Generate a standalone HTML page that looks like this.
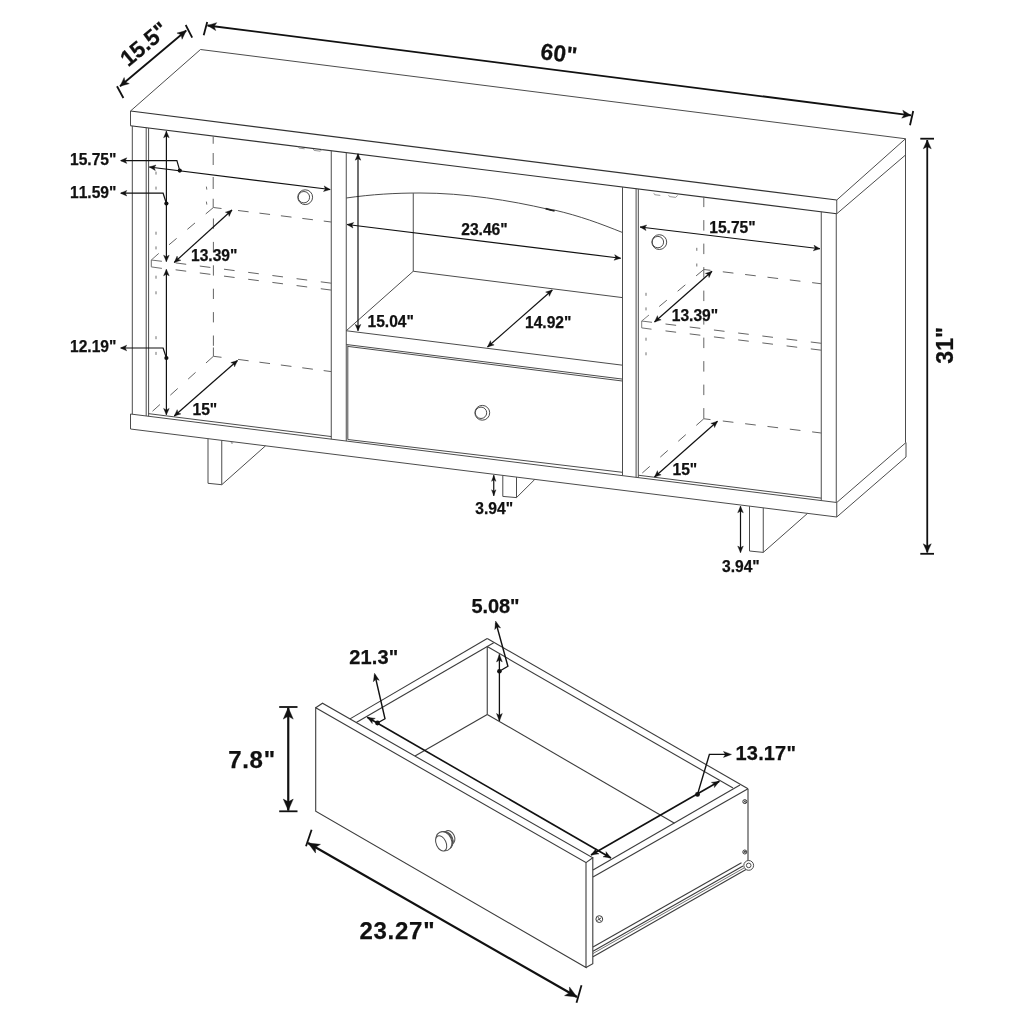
<!DOCTYPE html>
<html><head><meta charset="utf-8"><title>Dimensions</title>
<style>
html,body{margin:0;padding:0;background:#fff;}
body{width:1024px;height:1024px;overflow:hidden;}
svg{display:block}
text{font-family:"Liberation Sans",sans-serif;font-weight:700;fill:#111;stroke:#111;stroke-width:0.25px;font-kerning:none;letter-spacing:0;}
svg{will-change:transform;transform:translateZ(0);}
</style></head><body>
<svg width="1024" height="1024" viewBox="0 0 1024 1024">
<rect width="1024" height="1024" fill="#fff"/>
<path d="M130.50,111.00 L200.50,49.50 L905.50,138.75 L836.75,200.00" stroke="#4c4c4c" stroke-width="1.0" fill="none" stroke-linejoin="miter" />
<path d="M130.50,111.00 L130.50,125.75" stroke="#4c4c4c" stroke-width="1.0" fill="none" stroke-linejoin="miter" />
<path d="M836.75,213.75 L836.75,200.00" stroke="#4c4c4c" stroke-width="1.0" fill="none" stroke-linejoin="miter" />
<line x1="130.50" y1="111.00" x2="836.75" y2="200.00" stroke="#333" stroke-width="1.15" />
<line x1="130.50" y1="125.75" x2="836.75" y2="213.75" stroke="#333" stroke-width="1.15" />
<path d="M836.75,213.75 L905.50,155.00 L905.50,138.75" stroke="#4c4c4c" stroke-width="1.0" fill="none" stroke-linejoin="miter" />
<line x1="905.50" y1="155.00" x2="905.50" y2="442.50" stroke="#4c4c4c" stroke-width="1.0" />
<path d="M130.50,414.00 L130.50,429.00 L836.75,517.00 L836.75,502.50" stroke="#4c4c4c" stroke-width="1.0" fill="none" stroke-linejoin="miter" />
<line x1="130.50" y1="414.00" x2="836.75" y2="502.50" stroke="#4c4c4c" stroke-width="1.0" />
<path d="M836.75,502.50 L906.00,442.50 L906.00,457.00 L836.75,517.00" stroke="#4c4c4c" stroke-width="1.0" fill="none" stroke-linejoin="miter" />
<line x1="132.30" y1="125.97" x2="132.30" y2="414.23" stroke="#4c4c4c" stroke-width="1.0" />
<line x1="146.20" y1="127.71" x2="146.20" y2="415.97" stroke="#4c4c4c" stroke-width="1.0" />
<line x1="148.60" y1="128.01" x2="148.60" y2="416.27" stroke="#4c4c4c" stroke-width="1.0" />
<line x1="331.25" y1="150.76" x2="331.25" y2="439.15" stroke="#4c4c4c" stroke-width="1.0" />
<line x1="346.25" y1="152.63" x2="346.25" y2="441.03" stroke="#4c4c4c" stroke-width="1.0" />
<line x1="622.50" y1="187.05" x2="622.50" y2="475.65" stroke="#4c4c4c" stroke-width="1.0" />
<line x1="636.10" y1="188.75" x2="636.10" y2="477.35" stroke="#4c4c4c" stroke-width="1.0" />
<line x1="638.30" y1="189.02" x2="638.30" y2="477.63" stroke="#4c4c4c" stroke-width="1.0" />
<line x1="821.25" y1="211.82" x2="821.25" y2="500.55" stroke="#4c4c4c" stroke-width="1.0" />
<line x1="836.25" y1="213.69" x2="836.25" y2="502.43" stroke="#4c4c4c" stroke-width="1.0" />
<line x1="148.00" y1="413.59" x2="331.25" y2="436.55" stroke="#4c4c4c" stroke-width="1.0" />
<line x1="638.30" y1="475.23" x2="821.25" y2="498.15" stroke="#4c4c4c" stroke-width="1.0" />
<path d="M298.2,146.6 l0.9,1.5 l5.6,0.7" stroke="#8a8a8a" stroke-width="0.9" fill="none" />
<path d="M313.2,149.0 l0.9,1.4 l6.2,0.8 l1.9,-2.0" stroke="#8a8a8a" stroke-width="0.9" fill="none" />
<path d="M653.8,193.2 l0.9,1.5 l5.6,0.7" stroke="#8a8a8a" stroke-width="0.9" fill="none" />
<path d="M668.6,195.2 l0.9,1.4 l6.2,0.8 l1.9,-2.0" stroke="#8a8a8a" stroke-width="0.9" fill="none" />
<path d="M346.25,198 C372,194.3 396,193 420,193 C465,193 510,200.5 548,209.2 l3,1.2 l3.5,-0.3 C580,216 600,223.5 622.5,232.5" stroke="#4c4c4c" stroke-width="1.0" fill="none" />
<line x1="545.60" y1="208.60" x2="554.60" y2="210.90" stroke="#222" stroke-width="1.9" />
<line x1="413.25" y1="193.20" x2="413.25" y2="271.25" stroke="#4c4c4c" stroke-width="1.0" />
<line x1="413.25" y1="271.25" x2="346.25" y2="330.75" stroke="#4c4c4c" stroke-width="1.0" />
<line x1="413.25" y1="271.25" x2="622.50" y2="297.60" stroke="#4c4c4c" stroke-width="1.0" />
<line x1="346.25" y1="330.75" x2="622.50" y2="365.20" stroke="#4c4c4c" stroke-width="1.0" />
<line x1="346.25" y1="344.50" x2="622.50" y2="379.10" stroke="#4c4c4c" stroke-width="1.0" />
<path d="M347.80,345.40 L347.80,439.50" stroke="#4c4c4c" stroke-width="1.0" fill="none" stroke-linejoin="miter" />
<line x1="347.80" y1="346.40" x2="622.30" y2="381.00" stroke="#4c4c4c" stroke-width="1.0" />
<line x1="347.80" y1="439.50" x2="622.30" y2="472.30" stroke="#4c4c4c" stroke-width="1.0" />
<circle cx="482.30" cy="412.80" r="7.4" stroke="#4c4c4c" stroke-width="1.0" fill="none"/>
<circle cx="481.00" cy="412.80" r="5.7" stroke="#4c4c4c" stroke-width="1.0" fill="none"/>
<circle cx="305.20" cy="197.20" r="7.4" stroke="#4c4c4c" stroke-width="1.0" fill="none"/>
<circle cx="303.90" cy="197.20" r="5.7" stroke="#4c4c4c" stroke-width="1.0" fill="none"/>
<circle cx="659.30" cy="242.10" r="7.4" stroke="#4c4c4c" stroke-width="1.0" fill="none"/>
<circle cx="657.90" cy="242.10" r="5.7" stroke="#4c4c4c" stroke-width="1.0" fill="none"/>
<line x1="213.20" y1="136.30" x2="213.20" y2="143.75" stroke="#646464" stroke-width="1.0" />
<line x1="213.20" y1="153.00" x2="213.20" y2="196.00" stroke="#646464" stroke-width="1.0" stroke-dasharray="12 12" stroke-dashoffset="0"/>
<line x1="213.20" y1="198.75" x2="213.20" y2="207.50" stroke="#646464" stroke-width="1.0" />
<line x1="213.40" y1="345.80" x2="213.40" y2="212.00" stroke="#646464" stroke-width="1.0" stroke-dasharray="10.3 13.1" stroke-dashoffset="0"/>
<line x1="213.40" y1="347.50" x2="213.40" y2="356.30" stroke="#646464" stroke-width="1.0" />
<line x1="213.40" y1="207.50" x2="221.50" y2="208.50" stroke="#646464" stroke-width="1.0" />
<line x1="238.00" y1="210.50" x2="331.25" y2="222.00" stroke="#646464" stroke-width="1.0" stroke-dasharray="10.7 10.9" stroke-dashoffset="0"/>
<line x1="213.40" y1="356.30" x2="221.50" y2="357.30" stroke="#646464" stroke-width="1.0" />
<line x1="238.00" y1="359.40" x2="331.25" y2="371.60" stroke="#646464" stroke-width="1.0" stroke-dasharray="10.7 10.9" stroke-dashoffset="0"/>
<line x1="213.40" y1="356.30" x2="150.00" y2="413.50" stroke="#646464" stroke-width="1.0" stroke-dasharray="10 14" stroke-dashoffset="0"/>
<line x1="213.40" y1="207.50" x2="158.75" y2="253.40" stroke="#646464" stroke-width="1.0" stroke-dasharray="10 14" stroke-dashoffset="0"/>
<path d="M158.75,253.40 L151.30,260.00 L151.30,266.90" stroke="#707070" stroke-width="1" fill="none" stroke-linejoin="miter" />
<line x1="151.30" y1="260.00" x2="161.90" y2="261.30" stroke="#707070" stroke-width="1.0" />
<line x1="151.30" y1="266.90" x2="161.90" y2="268.40" stroke="#707070" stroke-width="1.0" />
<line x1="175.60" y1="262.90" x2="331.25" y2="283.20" stroke="#646464" stroke-width="1.0" stroke-dasharray="10.7 13.7" stroke-dashoffset="0"/>
<line x1="175.60" y1="269.80" x2="331.25" y2="290.10" stroke="#646464" stroke-width="1.0" stroke-dasharray="10.7 13.7" stroke-dashoffset="0"/>
<line x1="156.00" y1="171.60" x2="156.00" y2="174.60" stroke="#707070" stroke-width="1" />
<line x1="156.00" y1="186.60" x2="156.00" y2="189.60" stroke="#707070" stroke-width="1" />
<line x1="156.00" y1="231.70" x2="156.00" y2="234.70" stroke="#707070" stroke-width="1" />
<line x1="156.00" y1="246.40" x2="156.00" y2="249.40" stroke="#707070" stroke-width="1" />
<line x1="156.00" y1="275.70" x2="156.00" y2="278.70" stroke="#707070" stroke-width="1" />
<line x1="156.00" y1="291.30" x2="156.00" y2="294.30" stroke="#707070" stroke-width="1" />
<line x1="156.00" y1="336.20" x2="156.00" y2="339.20" stroke="#707070" stroke-width="1" />
<line x1="156.00" y1="351.90" x2="156.00" y2="354.90" stroke="#707070" stroke-width="1" />
<line x1="206.40" y1="186.60" x2="206.80" y2="189.60" stroke="#707070" stroke-width="1" />
<line x1="206.40" y1="201.60" x2="206.80" y2="204.60" stroke="#707070" stroke-width="1" />
<line x1="703.80" y1="196.60" x2="703.80" y2="418.75" stroke="#646464" stroke-width="1.0" stroke-dasharray="10.5 13" stroke-dashoffset="0"/>
<line x1="703.80" y1="269.50" x2="710.50" y2="270.30" stroke="#646464" stroke-width="1.0" />
<line x1="722.80" y1="271.80" x2="821.25" y2="283.75" stroke="#646464" stroke-width="1.0" stroke-dasharray="10.7 11.8" stroke-dashoffset="0"/>
<line x1="703.80" y1="418.75" x2="710.50" y2="419.60" stroke="#646464" stroke-width="1.0" />
<line x1="722.80" y1="421.00" x2="821.25" y2="433.00" stroke="#646464" stroke-width="1.0" stroke-dasharray="10.7 11.8" stroke-dashoffset="0"/>
<line x1="703.80" y1="418.75" x2="640.00" y2="475.00" stroke="#646464" stroke-width="1.0" stroke-dasharray="10 14" stroke-dashoffset="0"/>
<line x1="703.80" y1="269.50" x2="649.00" y2="315.00" stroke="#646464" stroke-width="1.0" stroke-dasharray="10 14" stroke-dashoffset="0"/>
<path d="M649.00,315.00 L641.70,321.00 L641.70,327.90" stroke="#707070" stroke-width="0.9" fill="none" stroke-linejoin="miter" />
<line x1="641.70" y1="321.00" x2="652.00" y2="322.30" stroke="#707070" stroke-width="1.0" />
<line x1="641.70" y1="327.90" x2="651.50" y2="329.20" stroke="#707070" stroke-width="1.0" />
<line x1="665.50" y1="324.00" x2="821.25" y2="343.30" stroke="#646464" stroke-width="1.0" stroke-dasharray="10.7 13.7" stroke-dashoffset="0"/>
<line x1="665.50" y1="330.90" x2="821.25" y2="350.20" stroke="#646464" stroke-width="1.0" stroke-dasharray="10.7 13.7" stroke-dashoffset="0"/>
<line x1="646.00" y1="292.80" x2="646.00" y2="295.80" stroke="#707070" stroke-width="1" />
<line x1="646.00" y1="307.40" x2="646.00" y2="310.40" stroke="#707070" stroke-width="1" />
<line x1="646.00" y1="337.70" x2="646.00" y2="340.70" stroke="#707070" stroke-width="1" />
<line x1="646.00" y1="352.30" x2="646.00" y2="355.30" stroke="#707070" stroke-width="1" />
<line x1="696.80" y1="247.80" x2="696.80" y2="250.80" stroke="#707070" stroke-width="1" />
<line x1="696.80" y1="263.50" x2="696.80" y2="266.50" stroke="#707070" stroke-width="1" />
<path d="M208.00,438.66 L208.00,483.30 L221.75,484.70 L221.75,440.38" stroke="#4c4c4c" stroke-width="1.0" fill="none" stroke-linejoin="miter" />
<line x1="221.75" y1="484.70" x2="265.50" y2="445.83" stroke="#4c4c4c" stroke-width="1.0" />
<path d="M502.80,475.43 L502.80,496.40 L516.50,497.60 L516.50,477.13" stroke="#4c4c4c" stroke-width="1.0" fill="none" stroke-linejoin="miter" />
<line x1="516.50" y1="497.60" x2="534.80" y2="479.42" stroke="#4c4c4c" stroke-width="1.0" />
<path d="M749.50,506.19 L749.50,551.00 L763.25,552.40 L763.25,507.90" stroke="#4c4c4c" stroke-width="1.0" fill="none" stroke-linejoin="miter" />
<line x1="763.25" y1="552.40" x2="807.50" y2="513.42" stroke="#4c4c4c" stroke-width="1.0" />
<path d="M231,442 l1,1.6 l1,-1.4" stroke="#666" stroke-width="0.7" fill="none" />
<line x1="120.00" y1="86.25" x2="186.25" y2="30.50" stroke="#111" stroke-width="1.8" />
<path d="M120.00,86.25 L124.16,77.52 L125.12,81.94 L129.31,83.64 Z" fill="#111" stroke="#111" stroke-width="0.4" stroke-linejoin="miter"/>
<path d="M186.25,30.50 L182.09,39.23 L181.13,34.81 L176.94,33.11 Z" fill="#111" stroke="#111" stroke-width="0.4" stroke-linejoin="miter"/>
<line x1="117.00" y1="86.25" x2="123.40" y2="98.00" stroke="#111" stroke-width="1.8" />
<line x1="185.70" y1="25.00" x2="192.20" y2="37.60" stroke="#111" stroke-width="1.8" />
<line x1="207.50" y1="25.50" x2="911.00" y2="115.30" stroke="#111" stroke-width="1.8" />
<path d="M207.50,25.50 L216.74,22.65 L214.13,26.35 L215.72,30.58 Z" fill="#111" stroke="#111" stroke-width="0.4" stroke-linejoin="miter"/>
<path d="M911.00,115.30 L901.76,118.15 L904.37,114.45 L902.78,110.22 Z" fill="#111" stroke="#111" stroke-width="0.4" stroke-linejoin="miter"/>
<line x1="207.20" y1="22.00" x2="203.70" y2="35.30" stroke="#111" stroke-width="1.8" />
<line x1="913.20" y1="111.00" x2="910.00" y2="125.30" stroke="#111" stroke-width="1.8" />
<line x1="927.25" y1="140.00" x2="927.25" y2="552.60" stroke="#111" stroke-width="1.8" />
<path d="M927.25,140.00 L931.25,148.80 L927.25,146.69 L923.25,148.80 Z" fill="#111" stroke="#111" stroke-width="0.4" stroke-linejoin="miter"/>
<path d="M927.25,552.60 L923.25,543.80 L927.25,545.91 L931.25,543.80 Z" fill="#111" stroke="#111" stroke-width="0.4" stroke-linejoin="miter"/>
<line x1="920.30" y1="138.70" x2="934.00" y2="138.70" stroke="#111" stroke-width="1.8" />
<line x1="920.30" y1="553.80" x2="934.00" y2="553.80" stroke="#111" stroke-width="1.8" />
<line x1="166.40" y1="131.30" x2="166.40" y2="261.60" stroke="#111" stroke-width="1.2" />
<path d="M166.40,131.30 L169.20,137.70 L166.40,136.16 L163.60,137.70 Z" fill="#111" stroke="#111" stroke-width="0.4" stroke-linejoin="miter"/>
<path d="M166.40,261.60 L163.60,255.20 L166.40,256.74 L169.20,255.20 Z" fill="#111" stroke="#111" stroke-width="0.4" stroke-linejoin="miter"/>
<line x1="166.40" y1="269.40" x2="166.40" y2="414.80" stroke="#111" stroke-width="1.2" />
<path d="M166.40,269.40 L169.20,275.80 L166.40,274.26 L163.60,275.80 Z" fill="#111" stroke="#111" stroke-width="0.4" stroke-linejoin="miter"/>
<path d="M166.40,414.80 L163.60,408.40 L166.40,409.94 L169.20,408.40 Z" fill="#111" stroke="#111" stroke-width="0.4" stroke-linejoin="miter"/>
<line x1="149.30" y1="167.00" x2="330.20" y2="189.50" stroke="#111" stroke-width="1.2" />
<path d="M149.30,167.00 L156.00,165.01 L154.13,167.60 L155.31,170.57 Z" fill="#111" stroke="#111" stroke-width="0.4" stroke-linejoin="miter"/>
<path d="M330.20,189.50 L323.50,191.49 L325.37,188.90 L324.19,185.93 Z" fill="#111" stroke="#111" stroke-width="0.4" stroke-linejoin="miter"/>
<path d="M121.00,160.60 L176.90,160.60 L179.75,170.60" stroke="#111" stroke-width="1.2" fill="none" stroke-linejoin="miter" />
<path d="M120.40,160.60 L126.80,157.80 L125.26,160.60 L126.80,163.40 Z" fill="#111" stroke="#111" stroke-width="0.4" stroke-linejoin="miter"/>
<circle cx="179.75" cy="170.60" r="2.1" fill="#111"/>
<path d="M121.00,193.20 L163.10,193.20 L166.40,203.50" stroke="#111" stroke-width="1.2" fill="none" stroke-linejoin="miter" />
<path d="M120.40,193.20 L126.80,190.40 L125.26,193.20 L126.80,196.00 Z" fill="#111" stroke="#111" stroke-width="0.4" stroke-linejoin="miter"/>
<circle cx="166.40" cy="203.50" r="2.1" fill="#111"/>
<path d="M121.00,348.00 L163.10,348.00 L166.40,358.00" stroke="#111" stroke-width="1.2" fill="none" stroke-linejoin="miter" />
<path d="M120.30,348.00 L126.70,345.20 L125.16,348.00 L126.70,350.80 Z" fill="#111" stroke="#111" stroke-width="0.4" stroke-linejoin="miter"/>
<circle cx="166.40" cy="358.00" r="2.1" fill="#111"/>
<line x1="174.25" y1="262.50" x2="232.00" y2="210.00" stroke="#111" stroke-width="1.2" />
<path d="M174.25,262.50 L177.10,256.12 L177.85,259.23 L180.87,260.27 Z" fill="#111" stroke="#111" stroke-width="0.4" stroke-linejoin="miter"/>
<path d="M232.00,210.00 L229.15,216.38 L228.40,213.27 L225.38,212.23 Z" fill="#111" stroke="#111" stroke-width="0.4" stroke-linejoin="miter"/>
<line x1="174.25" y1="416.00" x2="237.50" y2="360.50" stroke="#111" stroke-width="1.2" />
<path d="M174.25,416.00 L177.21,409.67 L177.91,412.79 L180.91,413.88 Z" fill="#111" stroke="#111" stroke-width="0.4" stroke-linejoin="miter"/>
<path d="M237.50,360.50 L234.54,366.83 L233.84,363.71 L230.84,362.62 Z" fill="#111" stroke="#111" stroke-width="0.4" stroke-linejoin="miter"/>
<line x1="358.00" y1="153.80" x2="358.00" y2="330.80" stroke="#111" stroke-width="1.2" />
<path d="M358.00,153.80 L360.80,160.20 L358.00,158.66 L355.20,160.20 Z" fill="#111" stroke="#111" stroke-width="0.4" stroke-linejoin="miter"/>
<path d="M358.00,330.80 L355.20,324.40 L358.00,325.94 L360.80,324.40 Z" fill="#111" stroke="#111" stroke-width="0.4" stroke-linejoin="miter"/>
<line x1="347.00" y1="224.50" x2="620.70" y2="258.25" stroke="#111" stroke-width="1.2" />
<path d="M347.00,224.50 L353.69,222.50 L351.83,225.10 L353.01,228.06 Z" fill="#111" stroke="#111" stroke-width="0.4" stroke-linejoin="miter"/>
<path d="M620.70,258.25 L614.01,260.25 L615.87,257.65 L614.69,254.69 Z" fill="#111" stroke="#111" stroke-width="0.4" stroke-linejoin="miter"/>
<line x1="487.50" y1="347.00" x2="552.30" y2="290.00" stroke="#111" stroke-width="1.2" />
<path d="M487.50,347.00 L490.46,340.67 L491.15,343.79 L494.15,344.88 Z" fill="#111" stroke="#111" stroke-width="0.4" stroke-linejoin="miter"/>
<path d="M552.30,290.00 L549.34,296.33 L548.65,293.21 L545.65,292.12 Z" fill="#111" stroke="#111" stroke-width="0.4" stroke-linejoin="miter"/>
<line x1="640.00" y1="227.00" x2="820.00" y2="248.75" stroke="#111" stroke-width="1.2" />
<path d="M640.00,227.00 L646.69,224.99 L644.83,227.58 L646.02,230.55 Z" fill="#111" stroke="#111" stroke-width="0.4" stroke-linejoin="miter"/>
<path d="M820.00,248.75 L813.31,250.76 L815.17,248.17 L813.98,245.20 Z" fill="#111" stroke="#111" stroke-width="0.4" stroke-linejoin="miter"/>
<line x1="654.50" y1="322.00" x2="712.00" y2="271.25" stroke="#111" stroke-width="1.2" />
<path d="M654.50,322.00 L657.45,315.67 L658.15,318.78 L661.15,319.86 Z" fill="#111" stroke="#111" stroke-width="0.4" stroke-linejoin="miter"/>
<path d="M712.00,271.25 L709.05,277.58 L708.35,274.47 L705.35,273.39 Z" fill="#111" stroke="#111" stroke-width="0.4" stroke-linejoin="miter"/>
<line x1="654.50" y1="477.00" x2="717.50" y2="421.25" stroke="#111" stroke-width="1.2" />
<path d="M654.50,477.00 L657.44,470.66 L658.14,473.78 L661.15,474.86 Z" fill="#111" stroke="#111" stroke-width="0.4" stroke-linejoin="miter"/>
<path d="M717.50,421.25 L714.56,427.59 L713.86,424.47 L710.85,423.39 Z" fill="#111" stroke="#111" stroke-width="0.4" stroke-linejoin="miter"/>
<line x1="493.75" y1="475.30" x2="493.75" y2="495.80" stroke="#111" stroke-width="1.2" />
<path d="M493.75,475.30 L495.95,481.30 L493.75,479.86 L491.55,481.30 Z" fill="#111" stroke="#111" stroke-width="0.4" stroke-linejoin="miter"/>
<path d="M493.75,495.80 L491.55,489.80 L493.75,491.24 L495.95,489.80 Z" fill="#111" stroke="#111" stroke-width="0.4" stroke-linejoin="miter"/>
<line x1="740.50" y1="506.30" x2="740.50" y2="552.50" stroke="#111" stroke-width="1.2" />
<path d="M740.50,506.30 L743.30,512.70 L740.50,511.16 L737.70,512.70 Z" fill="#111" stroke="#111" stroke-width="0.4" stroke-linejoin="miter"/>
<path d="M740.50,552.50 L737.70,546.10 L740.50,547.64 L743.30,546.10 Z" fill="#111" stroke="#111" stroke-width="0.4" stroke-linejoin="miter"/>
<text x="70.00" y="165.00" font-size="15.6" text-anchor="start" >15.75&quot;</text>
<text x="70.00" y="197.50" font-size="15.6" text-anchor="start" >11.59&quot;</text>
<text x="70.00" y="352.20" font-size="15.6" text-anchor="start" >12.19&quot;</text>
<text x="191.00" y="260.60" font-size="15.6" text-anchor="start" >13.39&quot;</text>
<text x="192.50" y="414.75" font-size="15.6" text-anchor="start" >15&quot;</text>
<text x="367.50" y="327.00" font-size="15.6" text-anchor="start" >15.04&quot;</text>
<text x="461.25" y="235.00" font-size="15.6" text-anchor="start" >23.46&quot;</text>
<text x="525.00" y="328.00" font-size="15.6" text-anchor="start" >14.92&quot;</text>
<text x="709.25" y="232.80" font-size="15.6" text-anchor="start" >15.75&quot;</text>
<text x="671.75" y="320.75" font-size="15.6" text-anchor="start" >13.39&quot;</text>
<text x="672.50" y="475.00" font-size="15.6" text-anchor="start" >15&quot;</text>
<text x="475.30" y="514.40" font-size="15.6" text-anchor="start" >3.94&quot;</text>
<text x="722.00" y="571.90" font-size="15.6" text-anchor="start" >3.94&quot;</text>
<text x="558.90" y="61.30" font-size="23" text-anchor="middle" transform="rotate(7 558.90 53.00)" >60&quot;</text>
<text x="953.00" y="345.40" font-size="23" text-anchor="middle" transform="rotate(-90 953.00 345.40)" >31&quot;</text>
<text x="149.00" y="50.00" font-size="22.5" text-anchor="middle" transform="rotate(-40 149.00 50.00)" >15.5&quot;</text>
<path d="M315.70,707.80 L315.70,811.25 L586.00,967.50 L586.00,862.60 Z" stroke="#3c3c3c" stroke-width="1.1" fill="none" stroke-linejoin="miter" />
<path d="M315.70,707.80 L322.50,703.20 L592.80,857.80 L586.00,862.60" stroke="#3c3c3c" stroke-width="1.1" fill="none" stroke-linejoin="miter" />
<path d="M592.80,857.80 L592.80,963.75 L586.00,967.50" stroke="#3c3c3c" stroke-width="1.1" fill="none" stroke-linejoin="miter" />
<line x1="350.00" y1="718.90" x2="487.25" y2="638.50" stroke="#3c3c3c" stroke-width="1.1" />
<line x1="356.25" y1="722.50" x2="493.75" y2="642.75" stroke="#3c3c3c" stroke-width="1.1" />
<line x1="487.25" y1="638.50" x2="748.00" y2="788.75" stroke="#3c3c3c" stroke-width="1.1" />
<line x1="487.25" y1="646.60" x2="733.00" y2="788.00" stroke="#3c3c3c" stroke-width="1.1" />
<line x1="593.00" y1="870.00" x2="740.00" y2="785.00" stroke="#3c3c3c" stroke-width="1.1" />
<line x1="593.00" y1="877.00" x2="748.00" y2="788.75" stroke="#3c3c3c" stroke-width="1.1" />
<line x1="748.00" y1="788.75" x2="748.00" y2="863.00" stroke="#3c3c3c" stroke-width="1.1" />
<line x1="487.25" y1="646.60" x2="487.25" y2="714.40" stroke="#3c3c3c" stroke-width="1.1" />
<line x1="487.25" y1="714.40" x2="415.00" y2="756.10" stroke="#3c3c3c" stroke-width="1.1" />
<line x1="487.25" y1="714.40" x2="674.50" y2="823.20" stroke="#3c3c3c" stroke-width="1.1" />
<line x1="593.00" y1="947.00" x2="741.50" y2="862.70" stroke="#3c3c3c" stroke-width="1.1" />
<line x1="593.00" y1="951.30" x2="743.00" y2="866.00" stroke="#3c3c3c" stroke-width="1.1" />
<line x1="593.00" y1="953.50" x2="744.00" y2="868.00" stroke="#3c3c3c" stroke-width="0.7" />
<line x1="593.00" y1="956.80" x2="746.00" y2="869.50" stroke="#3c3c3c" stroke-width="1.1" />
<circle cx="748.70" cy="865.40" r="4.9" stroke="#4c4c4c" stroke-width="1.0" fill="#fff"/>
<circle cx="748.70" cy="865.40" r="2.3" stroke="#4c4c4c" stroke-width="1.0" fill="none"/>
<circle cx="599.30" cy="919.10" r="3.4" stroke="#333" stroke-width="0.95" fill="none"/>
<line x1="597.26" y1="920.46" x2="601.34" y2="917.74" stroke="#333" stroke-width="0.85" />
<line x1="597.94" y1="917.06" x2="600.66" y2="921.14" stroke="#333" stroke-width="0.85" />
<circle cx="744.80" cy="801.60" r="2" stroke="#333" stroke-width="0.95" fill="none"/>
<line x1="743.60" y1="802.40" x2="746.00" y2="800.80" stroke="#333" stroke-width="0.85" />
<line x1="744.00" y1="800.40" x2="745.60" y2="802.80" stroke="#333" stroke-width="0.85" />
<circle cx="744.80" cy="852.00" r="2" stroke="#333" stroke-width="0.95" fill="none"/>
<line x1="743.60" y1="852.80" x2="746.00" y2="851.20" stroke="#333" stroke-width="0.85" />
<line x1="744.00" y1="850.80" x2="745.60" y2="853.20" stroke="#333" stroke-width="0.85" />
<g transform="rotate(-25 443.5 841.5)" stroke="#4c4c4c" stroke-width="1.0" fill="#fff">
<ellipse cx="450.5" cy="840.2" rx="5.2" ry="7.2"/>
<ellipse cx="446.2" cy="841.2" rx="7.0" ry="9.0"/>
<ellipse cx="445.1" cy="841.3" rx="7.3" ry="9.4"/>
<ellipse cx="444" cy="841.4" rx="7.6" ry="9.8"/>
<ellipse cx="440.6" cy="842.2" rx="4.9" ry="8.1"/>
</g>
<line x1="288.25" y1="707.60" x2="288.25" y2="810.60" stroke="#111" stroke-width="2.2" />
<path d="M288.25,707.60 L293.25,719.10 L288.25,716.34 L283.25,719.10 Z" fill="#111" stroke="#111" stroke-width="0.4" stroke-linejoin="miter"/>
<path d="M288.25,810.60 L283.25,799.10 L288.25,801.86 L293.25,799.10 Z" fill="#111" stroke="#111" stroke-width="0.4" stroke-linejoin="miter"/>
<line x1="279.20" y1="707.00" x2="297.50" y2="707.00" stroke="#111" stroke-width="1.8" />
<line x1="279.20" y1="811.30" x2="297.50" y2="811.30" stroke="#111" stroke-width="1.8" />
<line x1="308.00" y1="843.00" x2="577.00" y2="997.00" stroke="#111" stroke-width="2.2" />
<path d="M308.00,843.00 L320.46,844.37 L315.58,847.34 L315.50,853.05 Z" fill="#111" stroke="#111" stroke-width="0.4" stroke-linejoin="miter"/>
<path d="M577.00,997.00 L564.54,995.63 L569.42,992.66 L569.50,986.95 Z" fill="#111" stroke="#111" stroke-width="0.4" stroke-linejoin="miter"/>
<line x1="311.60" y1="829.80" x2="306.00" y2="846.20" stroke="#111" stroke-width="1.8" />
<line x1="581.50" y1="985.20" x2="576.50" y2="1002.80" stroke="#111" stroke-width="1.8" />
<line x1="367.25" y1="717.25" x2="611.00" y2="858.00" stroke="#111" stroke-width="1.6" />
<path d="M367.25,717.25 L375.25,718.40 L372.19,720.10 L372.24,723.60 Z" fill="#111" stroke="#111" stroke-width="0.4" stroke-linejoin="miter"/>
<path d="M611.00,858.00 L603.00,856.85 L606.06,855.15 L606.01,851.65 Z" fill="#111" stroke="#111" stroke-width="0.4" stroke-linejoin="miter"/>
<line x1="591.00" y1="855.00" x2="719.40" y2="781.25" stroke="#111" stroke-width="1.6" />
<path d="M591.00,855.00 L596.01,848.66 L595.94,852.16 L599.00,853.87 Z" fill="#111" stroke="#111" stroke-width="0.4" stroke-linejoin="miter"/>
<path d="M719.40,781.25 L714.39,787.59 L714.46,784.09 L711.40,782.38 Z" fill="#111" stroke="#111" stroke-width="0.4" stroke-linejoin="miter"/>
<line x1="499.40" y1="654.40" x2="499.40" y2="721.00" stroke="#111" stroke-width="1.3" />
<path d="M499.40,654.40 L502.30,661.90 L499.40,660.10 L496.50,661.90 Z" fill="#111" stroke="#111" stroke-width="0.4" stroke-linejoin="miter"/>
<path d="M499.40,721.00 L496.50,713.50 L499.40,715.30 L502.30,713.50 Z" fill="#111" stroke="#111" stroke-width="0.4" stroke-linejoin="miter"/>
<path d="M374.90,675.00 L385.00,718.75 L377.50,723.00" stroke="#111" stroke-width="1.4" fill="none" stroke-linejoin="miter" />
<path d="M374.50,673.25 L379.22,680.37 L375.87,679.17 L373.38,681.72 Z" fill="#111" stroke="#111" stroke-width="0.4" stroke-linejoin="miter"/>
<circle cx="377.50" cy="723.00" r="2.4" fill="#111"/>
<path d="M496.00,623.00 L507.90,666.25 L499.40,671.25" stroke="#111" stroke-width="1.4" fill="none" stroke-linejoin="miter" />
<path d="M495.60,621.00 L500.59,627.93 L497.19,626.87 L494.80,629.51 Z" fill="#111" stroke="#111" stroke-width="0.4" stroke-linejoin="miter"/>
<circle cx="499.40" cy="671.25" r="2.3" fill="#111"/>
<path d="M697.50,794.40 L709.40,754.40 L729.00,754.40" stroke="#111" stroke-width="1.4" fill="none" stroke-linejoin="miter" />
<path d="M731.50,754.40 L723.50,757.40 L725.42,754.40 L723.50,751.40 Z" fill="#111" stroke="#111" stroke-width="0.4" stroke-linejoin="miter"/>
<circle cx="697.50" cy="794.40" r="2.4" fill="#111"/>
<text x="471.60" y="612.80" font-size="20" text-anchor="start" style="letter-spacing:-0.1px">5.08&quot;</text>
<text x="349.30" y="663.75" font-size="20" text-anchor="start" style="letter-spacing:0.15px">21.3&quot;</text>
<text x="735.60" y="760.30" font-size="20" text-anchor="start" style="letter-spacing:0.15px">13.17&quot;</text>
<text x="228.20" y="767.50" font-size="24" text-anchor="start" style="letter-spacing:0.7px">7.8&quot;</text>
<text x="359.40" y="938.75" font-size="24" text-anchor="start" style="letter-spacing:0.75px">23.27&quot;</text>
</svg>
</body></html>
